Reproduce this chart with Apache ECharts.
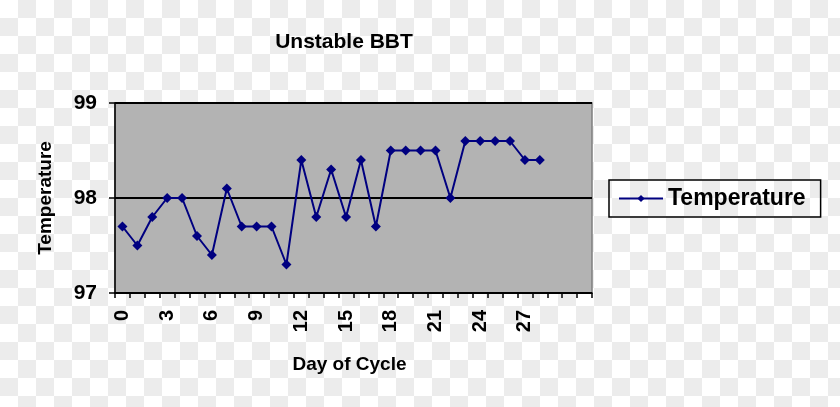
<!DOCTYPE html>
<html>
<head>
<meta charset="utf-8">
<script src="https://cdn.jsdelivr.net/npm/echarts@6/dist/echarts.min.js"></script>
<style>
html,body{margin:0;padding:0;}
body{
  width:840px;height:407px;
  background-color:#ffffff;
  background-image:
    linear-gradient(45deg,#ececec 25%,transparent 25%,transparent 75%,#ececec 75%),
    linear-gradient(45deg,#ececec 25%,transparent 25%,transparent 75%,#ececec 75%);
  background-size:36px 36px;
  background-position:0 0,18px 18px;
}
#c{width:840px;height:407px;}
</style>
</head>
<body>
<div id="c"></div>
<script>
var days = [];
for (var i = 0; i <= 31; i++) days.push(String(i));
var lastLabelDay = 27;
var temperature = [97.7, 97.5, 97.8, 98.0, 98.0, 97.6, 97.4, 98.1, 97.7, 97.7, 97.7, 97.3, 98.4, 97.8, 98.3, 97.8, 98.4, 97.7, 98.5, 98.5, 98.5, 98.5, 98.0, 98.6, 98.6, 98.6, 98.6, 98.4, 98.4];
var seriesName = 'Temperature';
var titleText = 'Unstable BBT';
var xName = 'Day of Cycle';
var yName = 'Temperature';

var font = 'Liberation Sans, Arial, sans-serif';
var chart = echarts.init(document.getElementById('c'));
chart.setOption({
  backgroundColor: 'transparent',
  animation: false,
  title: {
    text: titleText,
    left: 339, top: 27,
    textAlign: 'center',
    textStyle: {fontFamily: font, fontWeight: 'bold', fontSize: 21, color: '#000'}
  },
  legend: {
    data: [seriesName],
    left: 609, top: 180,
    padding: [7, 15, 7, 9],
    borderColor: '#000', borderWidth: 1.5,
    itemWidth: 44, itemHeight: 9, itemGap: 5,
    textStyle: {fontFamily: font, fontWeight: 'bold', fontSize: 23, color: '#000'}
  },
  grid: {
    left: 115, right: 248, top: 103, bottom: 114,
    show: true, backgroundColor: '#b3b3b3', borderColor: '#7f7f7f', borderWidth: 1.5
  },
  xAxis: {
    type: 'category',
    data: days,
    boundaryGap: true,
    name: xName,
    nameLocation: 'middle',
    nameGap: 62,
    nameTextStyle: {fontFamily: font, fontWeight: 'bold', fontSize: 19, color: '#000', padding: [0, 8, 0, 0]},
    axisLine: {lineStyle: {color: '#000', width: 1.5}},
    axisTick: {show: true, interval: 0, length: 5, lineStyle: {color: '#000', width: 1.5}},
    axisLabel: {
      interval: function (index) { return index % 3 === 0 && index <= lastLabelDay; },
      rotate: 90, margin: 17,
      fontFamily: font, fontWeight: 'bold', fontSize: 20, color: '#000'
    },
    splitLine: {show: false}
  },
  yAxis: {
    type: 'value',
    min: 97, max: 99, interval: 1,
    name: yName,
    nameLocation: 'middle',
    nameGap: 60,
    nameRotate: 90,
    nameTextStyle: {fontFamily: font, fontWeight: 'bold', fontSize: 19, color: '#000'},
    axisLine: {show: true, lineStyle: {color: '#000', width: 1.5}},
    axisTick: {show: true, length: 6, lineStyle: {color: '#000', width: 1.5}},
    axisLabel: {margin: 18, fontFamily: font, fontWeight: 'bold', fontSize: 21, color: '#000'},
    splitLine: {show: true, lineStyle: {color: '#000', width: 2}}
  },
  series: [{
    name: seriesName,
    type: 'line',
    data: temperature,
    symbol: 'diamond',
    symbolSize: 10,
    showAllSymbol: true,
    lineStyle: {color: '#000080', width: 2},
    itemStyle: {color: '#000080'}
  }]
});
</script>
</body>
</html>
